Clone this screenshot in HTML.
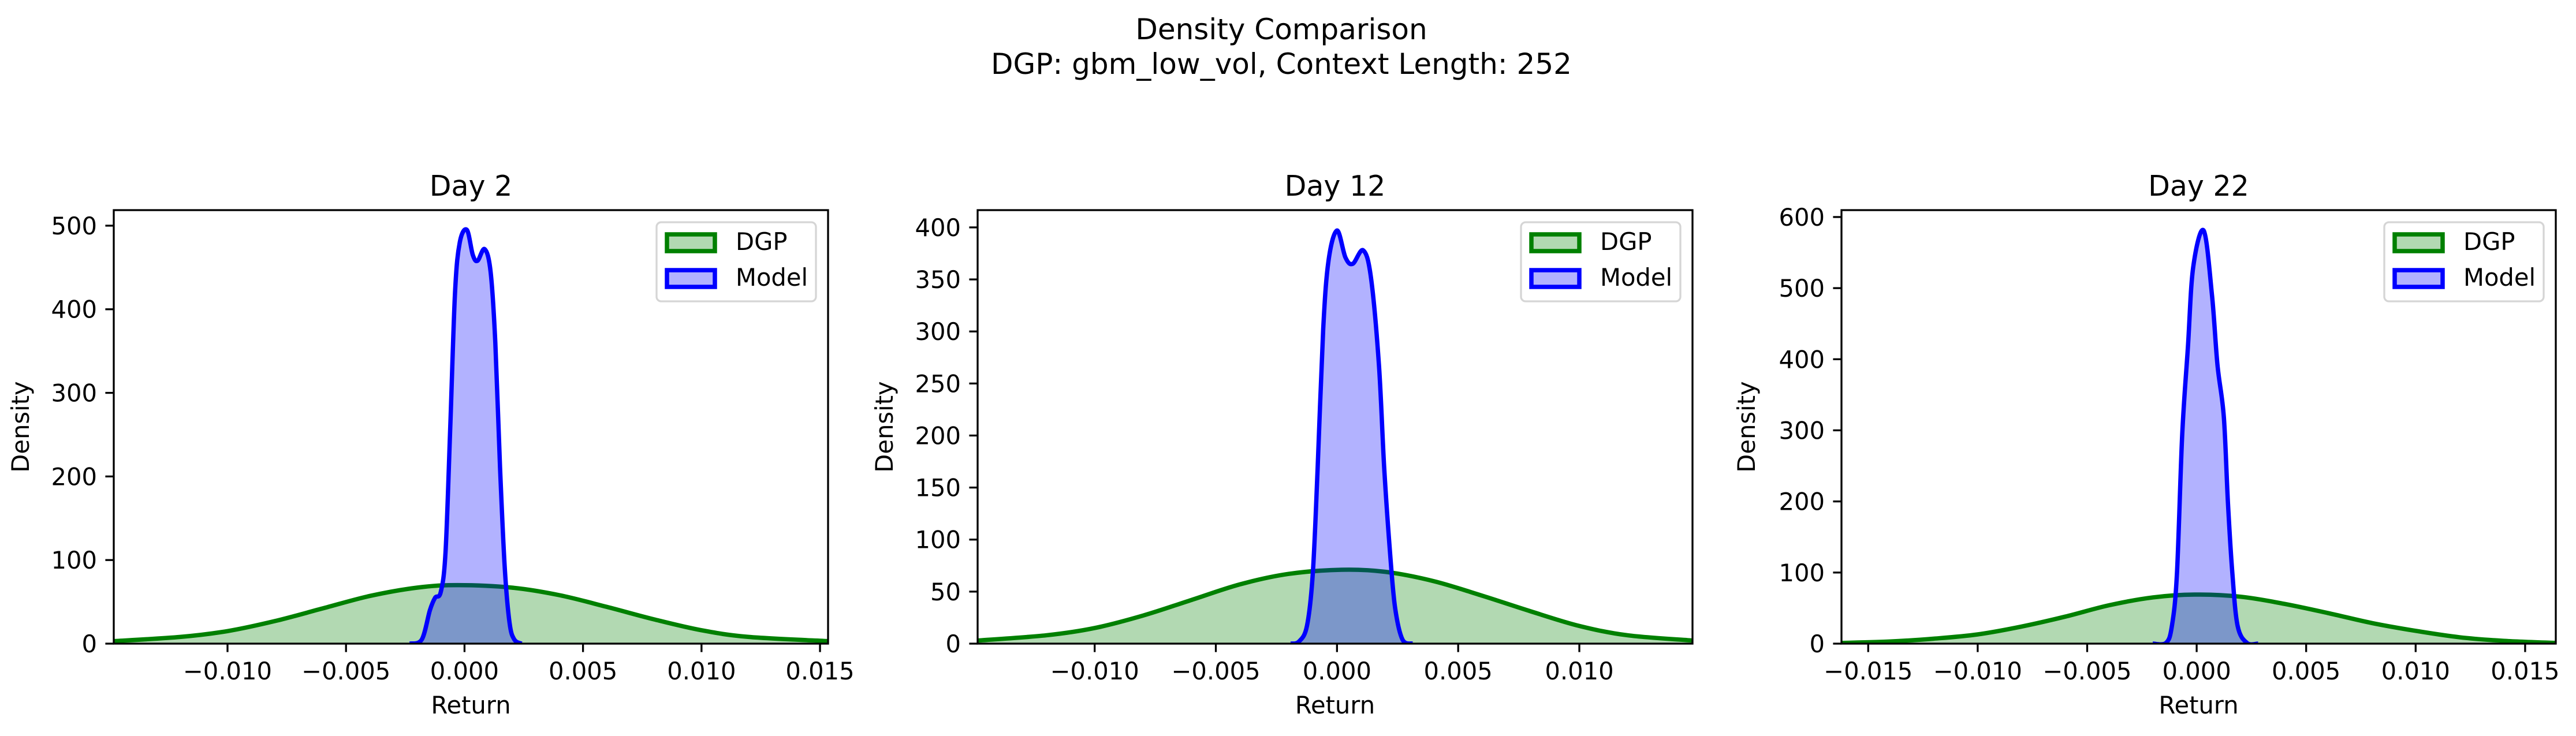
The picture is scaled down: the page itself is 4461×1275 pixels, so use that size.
<!DOCTYPE html>
<html><head><meta charset="utf-8"><style>
html,body{margin:0;padding:0;background:#fff;}
svg{display:block;font-family:"DejaVu Sans","Liberation Sans",sans-serif;}
</style></head><body>
<svg id="fig" width="4461" height="1275" viewBox="0 0 4461 1275" xmlns="http://www.w3.org/2000/svg">
<text x="2219" y="68" font-size="50" text-anchor="middle">Density Comparison</text>
<text x="2219" y="128" font-size="50" text-anchor="middle">DGP: gbm_low_vol, Context Length: 252</text>
</svg>
<script>
// ---- data ----
const panelTitles = ["Day 2", "Day 12", "Day 22"];
const xDomains = [[-0.0148, 0.01534], [-0.01483, 0.01467], [-0.01622, 0.0164]];
const yDomains = [[0, 518.6], [0, 416.6], [0, 609.7]];
const xTicks1 = [-0.010, -0.005, 0.000, 0.005, 0.010, 0.015];
const xTicks2 = [-0.010, -0.005, 0.000, 0.005, 0.010];
const xTicks3 = [-0.015, -0.010, -0.005, 0.000, 0.005, 0.010, 0.015];
const yTicks1 = [0, 100, 200, 300, 400, 500];
const yTicks2 = [0, 50, 100, 150, 200, 250, 300, 350, 400];
const yTicks3 = [0, 100, 200, 300, 400, 500, 600];

const dgpX1 = [-0.0148, -0.012, -0.010, -0.008, -0.006, -0.004, -0.002, -0.0003, 0.002, 0.004, 0.006, 0.008, 0.010, 0.012, 0.01534];
const dgpY1 = [3, 8, 15, 27, 42, 57, 67, 70, 67, 58, 44, 29, 16, 8, 3];
const modelX1 = [-0.0023, -0.0018, -0.00146, -0.00124, -0.001, -0.0008, -0.0006, -0.0004, -0.0002, 0.0001, 0.00035, 0.00055, 0.00085, 0.0011, 0.0013, 0.0015, 0.0017, 0.0019, 0.0021, 0.0024];
const modelY1 = [0, 5, 40, 55, 62, 110, 260, 420, 480, 495, 465, 458, 472, 445, 360, 210, 90, 25, 5, 0];

const dgpX2 = [-0.01483, -0.012, -0.010, -0.008, -0.006, -0.004, -0.002, 0.0002, 0.002, 0.004, 0.006, 0.008, 0.010, 0.012, 0.01467];
const dgpY2 = [3, 8, 15, 27, 42, 57, 67, 71, 69, 60, 46, 31, 17, 8, 3];
const modelX2 = [-0.0019, -0.00157, -0.00124, -0.001, -0.0008, -0.00057, -0.00035, 0, 0.00035, 0.00065, 0.00108, 0.0014, 0.00173, 0.00195, 0.0022, 0.0024, 0.0027, 0.0031];
const modelY2 = [0, 2, 17, 67, 168, 302, 368, 397, 371, 365, 378, 352, 268, 168, 84, 34, 4, 0];

const dgpX3 = [-0.01622, -0.014, -0.012, -0.010, -0.008, -0.006, -0.004, -0.002, -0.0001, 0.002, 0.004, 0.006, 0.008, 0.010, 0.012, 0.014, 0.0164];
const dgpY3 = [1, 3, 7, 13, 24, 38, 54, 65, 69, 66, 56, 43, 29, 18, 9, 4, 1];
const modelX3 = [-0.002, -0.0014, -0.00113, -0.0009, -0.00066, -0.0004, -0.00016, 0.00032, 0.0007, 0.00095, 0.00124, 0.00143, 0.00163, 0.00187, 0.0023, 0.0028];
const modelY3 = [0, 1, 25, 99, 294, 417, 529, 581, 490, 392, 319, 197, 99, 25, 1, 0];

const dgpXs = [dgpX1, dgpX2, dgpX3], dgpYs = [dgpY1, dgpY2, dgpY3];
const modelXs = [modelX1, modelX2, modelX3], modelYs = [modelY1, modelY2, modelY3];
const xTicksAll = [xTicks1, xTicks2, xTicks3], yTicksAll = [yTicks1, yTicks2, yTicks3];

// ---- layout ----
const boxes = [{l:197,r:1434},{l:1693,r:2931},{l:3189,r:4426}];
const TOP = 364, BOT = 1115;
const NS = "http://www.w3.org/2000/svg";
const svg = document.getElementById('fig');
function mk(tag, attrs, parent){ const e=document.createElementNS(NS,tag); for(const k in attrs) e.setAttribute(k,attrs[k]); (parent||svg).appendChild(e); return e; }
function fmtX(v){ const s=Math.abs(v).toFixed(3); return (v< -1e-9?'\u2212':'')+s; }
function smoothPath(pts){
  let d=`M${pts[0][0]},${pts[0][1]}`;
  for(let i=0;i<pts.length-1;i++){
    const p0=pts[Math.max(0,i-1)],p1=pts[i],p2=pts[i+1],p3=pts[Math.min(pts.length-1,i+2)];
    const c1=[p1[0]+(p2[0]-p0[0])/6,p1[1]+(p2[1]-p0[1])/6];
    const c2=[p2[0]-(p3[0]-p1[0])/6,p2[1]-(p3[1]-p1[1])/6];
    d+=` C${c1[0]},${c1[1]} ${c2[0]},${c2[1]} ${p2[0]},${p2[1]}`;
  }
  return d;
}

for(let p=0;p<3;p++){
  const b=boxes[p];
  const [x0,x1]=xDomains[p], [y0,y1]=yDomains[p];
  const sx=v=>b.l+(v-x0)/(x1-x0)*(b.r-b.l);
  const sy=v=>BOT-(v-y0)/(y1-y0)*(BOT-TOP);
  const g=mk('g',{});
  
  
  const clipId='clip'+p;
  const cp=mk('clipPath',{id:clipId},g);
  mk('rect',{x:b.l,y:TOP,width:b.r-b.l,height:BOT-TOP},cp);
  const plot=mk('g',{'clip-path':`url(#${clipId})`},g);

  const series=[
    {xs:dgpXs[p],ys:dgpYs[p],c:'#008000',n:'dgp'},
    {xs:modelXs[p],ys:modelYs[p],c:'#0000ff',n:'model'}];
  series.forEach(s=>{
    const pts=s.xs.map((x,i)=>[sx(x),sy(s.ys[i])]);
    const line=smoothPath(pts);
    const fill=mk('path',{d:line+` L${pts[pts.length-1][0]},${sy(0)} L${pts[0][0]},${sy(0)} Z`,fill:s.c,'fill-opacity':0.3,stroke:'none'},plot);
    
    
    const ln=mk('path',{d:line,fill:'none',stroke:s.c,'stroke-width':7.5,'stroke-linejoin':'round'},plot);
    
    
  });

  const fr=mk('rect',{x:b.l,y:TOP,width:b.r-b.l,height:BOT-TOP,fill:'none',stroke:'#000','stroke-width':3.3},g);
  
  

  xTicksAll[p].forEach(v=>{
    const x=sx(v);
    mk('line',{x1:x,y1:BOT,x2:x,y2:BOT+14.6,stroke:'#000','stroke-width':3.3},g);
    const t=mk('text',{x:x,y:BOT+62,'font-size':41.67,'text-anchor':'middle'},g);
    t.textContent=fmtX(v);
    
    
  });
  yTicksAll[p].forEach(v=>{
    const y=sy(v);
    mk('line',{x1:b.l-14.6,y1:y,x2:b.l,y2:y,stroke:'#000','stroke-width':3.3},g);
    const t=mk('text',{x:b.l-29,y:y+15,'font-size':41.67,'text-anchor':'end'},g);
    t.textContent=String(v);
    
    
  });
  const cx=(b.l+b.r)/2;
  const tt=mk('text',{x:cx,y:339,'font-size':49,'text-anchor':'middle'},g);
  tt.textContent=panelTitles[p];
  
  
  const xl=mk('text',{x:cx,y:1236,'font-size':41.67,'text-anchor':'middle'},g);
  xl.textContent='Return';
  
  
  const ylx=b.l-147+(p===2?-3:0), yly=(TOP+BOT)/2;
  const yl=mk('text',{x:ylx,y:yly,'font-size':41.67,'text-anchor':'middle',transform:`rotate(-90 ${ylx} ${yly})`},g);
  yl.textContent='Density';
  
  

  const lg=mk('g',{},g);
  
  
  const lx=b.r-297, ly=TOP+21;
  mk('rect',{x:lx,y:ly,width:276,height:137,rx:8,fill:'#fff','fill-opacity':0.8,stroke:'#d5d5d5','stroke-width':3.3},lg);
  [['DGP','#008000',0],['Model','#0000ff',62]].forEach(([n,c,dy])=>{
    const e=mk('g',{},lg);
    
    
    mk('rect',{x:lx+18,y:ly+21+dy,width:83,height:29,fill:c,'fill-opacity':0.3,stroke:c,'stroke-width':7.5},e);
    const t=mk('text',{x:lx+137,y:ly+48+dy,'font-size':41.67},e);
    t.textContent=n;
  });
}
</script>
</body></html>
